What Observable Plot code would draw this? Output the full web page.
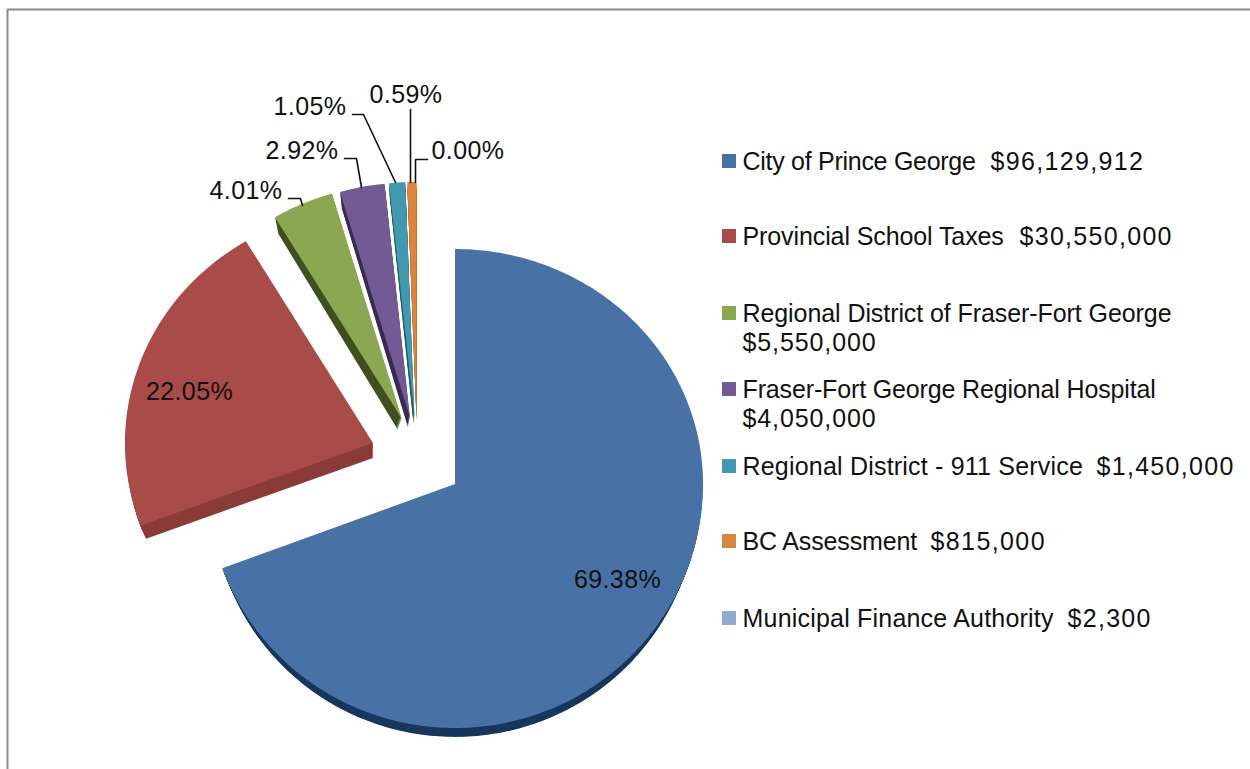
<!DOCTYPE html>
<html>
<head>
<meta charset="utf-8">
<script src="https://cdn.jsdelivr.net/npm/d3@7"></script>
<script src="https://cdn.jsdelivr.net/npm/@observablehq/plot@0.6"></script>
<style>html,body{margin:0;padding:0;background:#fff}svg{display:block}</style>
</head>
<body>
<div id="chart"></div>
<script>
// ---- data ----
const names = ["City of Prince George","Provincial School Taxes","Regional District of Fraser-Fort George","Fraser-Fort George Regional Hospital","Regional District - 911 Service","BC Assessment","Municipal Finance Authority"];
const amounts = [96129912,30550000,5550000,4050000,1450000,815000,2300];
const amountLabels = ["$96,129,912","$30,550,000","$5,550,000","$4,050,000","$1,450,000","$815,000","$2,300"];

// ---- style ----
const colors = ["#4872a6","#a94b48","#8ba751","#725a94","#4298af","#da843e","#93a9cf"];
const sideColors = ["#17365d","#8a3a37","#3f4f20","#392a55","#1f5c6c","#a9621f","#6f82a3"];
const fontFamily = "'Liberation Sans', Arial, sans-serif";
const nameSpacing = [-0.28,-0.1,-0.08,-0.14,0.2,-0.15,0.2];
const amountSpacing = [1.35,1.3,0.9,0.9,1.3,1.4,1.3];
const spaced = px => (index, scales, values, dimensions, context, next) => {
  const g = next(index, scales, values, dimensions, context);
  Array.from(g.querySelectorAll("text")).forEach((t, k) => {
    t.style.letterSpacing = (Array.isArray(px) ? px[index[k]] : px) + "px";
  });
  return g;
};

// ---- layout: one x unit = one pie radius; y is in units of the mean vertical radius ----
const cx = 455, cy = 484, rx = 248, ry = 240, ryTop = 235, ryBottom = 244;
const X = p => (p - cx) / rx;
const Y = p => (cy - p) / ry;
const persp = v => v > 0 ? v * ryTop / ry : v * ryBottom / ry;   // the tilted pie looks larger towards the viewer
const explodeX = [455,373,402,410,414.5,416.5,416.5];
const explodeY = [484,443,419,417.5,417,417,417];
const depths = [15,15,11,10,7,4,0];
const tipShift = [0,0,-4,-2,-1,0,0];
const shrink = 0.025;
const legendX = 742, legendRowY = [161,236,313,389,466,541,618];
const amountX = [990,1019,742,742,1096,930,1067];
const amountY = [161,236,342.5,418.5,466,541,618];
const labelPos = [[617,579],[189,391],[245.5,190.5],[301.5,150],[309.5,106],[405.5,94],[467.5,150]];
const leaders = [
  [],[],
  [[288,198],[300,198],[302,205]],
  [[344,158],[356,158],[361,187]],
  [[352,114],[363,114],[395,182]],
  [[410,109],[410,182]],
  [[427,159],[415,159],[415,182]]
];

// ---- geometry from the values ----
const total = d3.sum(amounts);
let acc = 0;
const slices = amounts.map((v, i) => {
  const a0 = acc / total * 2 * Math.PI; acc += v;
  return {name: names[i], i, a0, a1: acc / total * 2 * Math.PI};
});
function wedge(s, key, fill, dy, r, tip) {
  const rows = [], ax = X(explodeX[s.i]), ay = Y(explodeY[s.i]);
  const rawApex = ay * ry / (ay > 0 ? ryTop : ryBottom);
  const n = Math.max(2, Math.ceil((s.a1 - s.a0) * 180 / Math.PI));
  for (let k = 0; k <= n; k++) {
    const a = s.a0 + (s.a1 - s.a0) * k / n;
    rows.push({key, fill, x1: ax + r * Math.sin(a), y1: persp(rawApex + r * Math.cos(a)) - dy, x2: ax + tip / rx, y2: ay - dy});
  }
  return rows;
}
const topRows = slices.flatMap(s => wedge(s, s.name, s.name, 0, 1, 0));
const sideRows = slices.flatMap(s => d3.range(1, depths[s.i] + 1).flatMap(t =>
  wedge(s, s.name + t, s.name + " side", t / ry, 1 - shrink * t / depths[s.i], tipShift[s.i] * t / depths[s.i])));

const nameRows = names.map((n, i) => ({text: n, x: X(legendX), y: Y(legendRowY[i])}));
const amountRows = amountLabels.map((t, i) => ({text: t, x: X(amountX[i]), y: Y(amountY[i])}));
const swatches = names.map((n, i) => ({name: n, x1: X(722), x2: X(736), y1: Y(legendRowY[i] - 7), y2: Y(legendRowY[i] + 7)}));
const percentRows = amounts.map((v, i) => ({text: d3.format(".2%")(v / total), x: X(labelPos[i][0]), y: Y(labelPos[i][1])}));
const leaderRows = leaders.flatMap((pts, i) => pts.map(p => ({i, x: X(p[0]), y: Y(p[1])})));
const border = [[7,769],[7,9],[1250,9]].map(p => ({x: X(p[0]), y: Y(p[1])}));

const chart = Plot.plot({
  width: 1250, height: 769,
  marginTop: 0, marginRight: 0, marginBottom: 0, marginLeft: 0,
  style: {background: "#fff", fontFamily},
  x: {axis: null, domain: [X(0), X(1250)], range: [0, 1250]},
  y: {axis: null, domain: [Y(0), Y(769)], range: [0, 769]},
  color: {domain: [...names, ...names.map(n => n + " side")], range: [...colors, ...sideColors]},
  marks: [
    Plot.line(border, {x: "x", y: "y", stroke: "#8c8c8c", strokeWidth: 2, strokeLinejoin: "miter"}),
    Plot.area(sideRows, {x1: "x1", y1: "y1", x2: "x2", y2: "y2", z: "key", fill: "fill"}),
    Plot.area(topRows, {x1: "x1", y1: "y1", x2: "x2", y2: "y2", z: "key", fill: "fill"}),
    Plot.line(leaderRows, {x: "x", y: "y", z: "i", stroke: "#111", strokeWidth: 1.6, strokeLinejoin: "miter"}),
    Plot.text(percentRows, {x: "x", y: "y", text: "text", fontSize: 25, fill: "#111", fontFamily, render: spaced(0.4)}),
    Plot.rect(swatches, {x1: "x1", x2: "x2", y1: "y1", y2: "y2", fill: "name"}),
    Plot.text(nameRows, {x: "x", y: "y", text: "text", textAnchor: "start", fontSize: 25, fill: "#111", fontFamily, render: spaced(nameSpacing)}),
    Plot.text(amountRows, {x: "x", y: "y", text: "text", textAnchor: "start", fontSize: 25, fill: "#111", fontFamily, render: spaced(amountSpacing)})
  ]
});
document.getElementById("chart").append(chart);
</script>
</body>
</html>
